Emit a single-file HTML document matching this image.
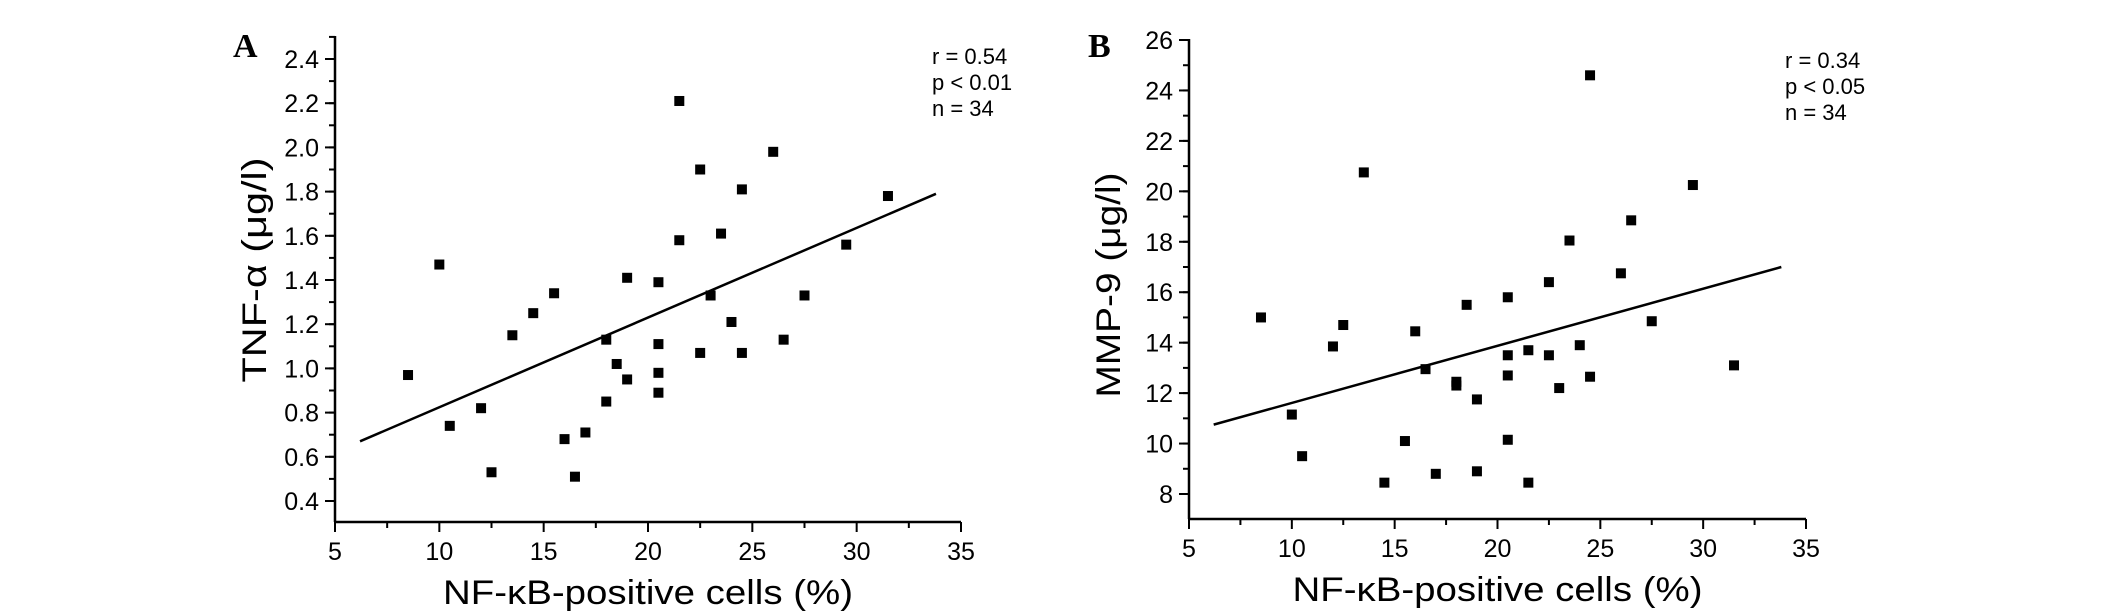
<!DOCTYPE html>
<html><head><meta charset="utf-8"><style>
html,body{margin:0;padding:0;background:#fff;}
svg{display:block;font-family:"Liberation Sans",sans-serif;}
</style></head><body>
<svg id="fig" width="2126" height="615" viewBox="0 0 2126 615" xmlns="http://www.w3.org/2000/svg">
<rect width="2126" height="615" fill="#fff"/>
<g id="pA"></g>
<g id="pB"></g>
</svg>
<script>
const xTicks = [5,10,15,20,25,30,35];
const aYTicks = ["0.4","0.6","0.8","1.0","1.2","1.4","1.6","1.8","2.0","2.2","2.4"];
const bYTicks = ["8","10","12","14","16","18","20","22","24","26"];
const aX = [8.5,10,10.5,12,12.5,13.5,14.5,15.5,16,16.5,17,18,18,18.5,19,19,20.5,20.5,20.5,20.5,21.5,21.5,22.5,22.5,23,23.5,24,24.5,24.5,26,26.5,27.5,29.5,31.5];
const aY = [0.97,1.47,0.74,0.82,0.53,1.15,1.25,1.34,0.68,0.51,0.71,1.13,0.85,1.02,1.41,0.95,1.39,1.11,0.98,0.89,2.21,1.58,1.90,1.07,1.33,1.61,1.21,1.81,1.07,1.98,1.13,1.33,1.56,1.78];
const bX = [8.5,10,10.5,12,12.5,13.5,14.5,15.5,16,16.5,17,18,18,18.5,19,19,20.5,20.5,20.5,20.5,21.5,21.5,22.5,22.5,23,23.5,24,24.5,24.5,26,26.5,27.5,29.5,31.5];
const bY = [15.0,11.15,9.5,13.85,14.7,20.75,8.45,10.1,14.45,12.95,8.8,12.3,12.45,15.5,11.75,8.9,15.8,13.5,12.7,10.15,13.7,8.45,16.4,13.5,12.2,18.05,13.9,24.6,12.65,16.75,18.85,14.85,20.25,13.1];
const aFitX = [6.2,33.8], aFitY = [0.67,1.79];
const bFitX = [6.2,33.8], bFitY = [10.75,17.0];
const aStats = ["r = 0.54","p < 0.01","n = 34"];
const bStats = ["r = 0.34","p < 0.05","n = 34"];

const NS="http://www.w3.org/2000/svg";
function mk(parent,tag,attrs,text){const e=document.createElementNS(NS,tag);for(const k in attrs)e.setAttribute(k,attrs[k]);if(text!==undefined)e.textContent=text;parent.appendChild(e);return e;}

function panel(g,cfg){
  const x0=cfg.px0,x1=cfg.px1,yb=cfg.yb,yt=cfg.yt;
  const sx=v=>x0+(v-5)/30*(x1-x0);
  const sy=v=>cfg.y0p+(v-cfg.v0)/(cfg.v1-cfg.v0)*(cfg.y1p-cfg.y0p);
  let e;
  e=mk(g,'line',{x1:x0,y1:yt,x2:x0,y2:yb,stroke:'#000','stroke-width':2.5});
  
  e=mk(g,'line',{x1:x0,y1:yb,x2:x1,y2:yb,stroke:'#000','stroke-width':2.5});
  
  xTicks.forEach((t,i)=>{
    const x=sx(t);
    e=mk(g,'line',{x1:x,y1:yb,x2:x,y2:yb+10,stroke:'#000','stroke-width':2});
    
    if(i<xTicks.length-1){const xm=sx(t+2.5);
      e=mk(g,'line',{x1:xm,y1:yb,x2:xm,y2:yb+6,stroke:'#000','stroke-width':2});
      }
    e=mk(g,'text',{x:x,y:yb+38,'font-size':25,'text-anchor':'middle'},String(t));
    
  });
  cfg.ticks.forEach(s=>{
    const v=parseFloat(s),y=sy(v);
    e=mk(g,'line',{x1:x0-10,y1:y,x2:x0,y2:y,stroke:'#000','stroke-width':2});
    
    e=mk(g,'text',{x:x0-16,y:y+9,'font-size':25,'text-anchor':'end'},s);
    
  });
  for(let v=cfg.v0-cfg.minor*Math.floor((cfg.v0-cfg.vmin)/cfg.minor);v<=cfg.vmax+1e-9;v+=cfg.minor){
    const y=sy(v); if(y>yb-2||y<yt)continue;
    e=mk(g,'line',{x1:x0-6,y1:y,x2:x0,y2:y,stroke:'#000','stroke-width':2});
    
  }
  e=mk(g,'line',{x1:sx(cfg.fx[0]),y1:sy(cfg.fy[0]),x2:sx(cfg.fx[1]),y2:sy(cfg.fy[1]),stroke:'#000','stroke-width':2.5});
  
  cfg.xs.forEach((xv,i)=>{
    e=mk(g,'rect',{x:sx(xv)-5,y:sy(cfg.ys[i])-5,width:10,height:10,fill:'#000'});
    
  });
  cfg.stats.forEach((s,i)=>{
    e=mk(g,'text',{x:cfg.statX,y:cfg.statY+i*26,'font-size':22},s);
    
  });
  e=mk(g,'text',{x:cfg.letterX,y:cfg.letterY,'font-size':34,'font-weight':'bold','font-family':'Liberation Serif, serif'},cfg.letter);
  
  e=mk(g,'text',{x:(x0+x1)/2,y:yb+82,'font-size':34,'text-anchor':'middle',textLength:410,lengthAdjust:'spacingAndGlyphs'},'NF-κB-positive cells (%)');
  
  const cy=cfg.titleCy;
  e=mk(g,'text',{x:0,y:0,'font-size':34,'text-anchor':'middle',transform:`translate(${cfg.titleX},${cy}) rotate(-90)`,textLength:cfg.titleLen,lengthAdjust:'spacingAndGlyphs'},cfg.title);
  
}
panel(document.getElementById('pA'),{px0:335,px1:961,yb:522,yt:36,v0:0.4,v1:2.4,y0p:501,y1p:59,vmin:0.3,vmax:2.5,minor:0.1,
  ticks:aYTicks,xs:aX,ys:aY,fx:aFitX,fy:aFitY,stats:aStats,statX:932,statY:64,letter:'A',letterX:233,letterY:57,
  title:'TNF-α (μg/l)',titleX:266,titleCy:270,titleLen:225});
panel(document.getElementById('pB'),{px0:1189,px1:1806,yb:519,yt:39,v0:8,v1:26,y0p:494,y1p:40,vmin:7,vmax:26,minor:1,
  ticks:bYTicks,xs:bX,ys:bY,fx:bFitX,fy:bFitY,stats:bStats,statX:1785,statY:68,letter:'B',letterX:1088,letterY:57,
  title:'MMP-9 (μg/l)',titleX:1120,titleCy:285,titleLen:225});
</script>
</body></html>
